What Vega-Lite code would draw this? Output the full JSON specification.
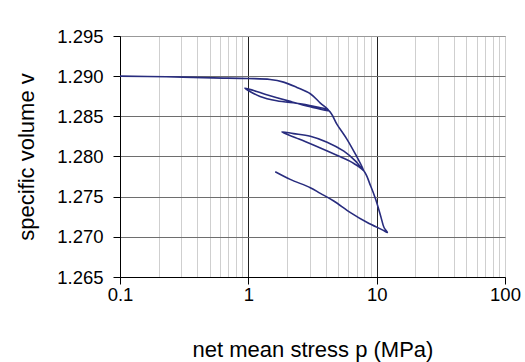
{
  "$schema": "https://vega.github.io/schema/vega-lite/v6.json",
  "width": 385,
  "height": 241,
  "autosize": "none",
  "padding": {"left": 120, "top": 36, "right": 20, "bottom": 85},
  "background": "white",
  "config": {
    "view": {"stroke": "#999999", "strokeWidth": 1},
    "font": "Liberation Sans"
  },
  "data": {
    "values": [
      {"i": 1, "p": 0.1, "v": 1.2900},
      {"i": 2, "p": 0.229, "v": 1.28992},
      {"i": 3, "p": 0.532, "v": 1.28979},
      {"i": 4, "p": 1.0, "v": 1.28971},
      {"i": 5, "p": 1.478, "v": 1.28959},
      {"i": 6, "p": 1.88, "v": 1.28926},
      {"i": 7, "p": 2.39, "v": 1.28860},
      {"i": 8, "p": 3.04, "v": 1.28781},
      {"i": 9, "p": 3.64, "v": 1.28665},
      {"i": 10, "p": 4.24, "v": 1.28570},
      {"i": 11, "p": 3.04, "v": 1.28620},
      {"i": 12, "p": 2.12, "v": 1.28686},
      {"i": 13, "p": 1.39, "v": 1.28769},
      {"i": 14, "p": 0.94, "v": 1.28851},
      {"i": 15, "p": 1.234, "v": 1.28748},
      {"i": 16, "p": 1.667, "v": 1.28694},
      {"i": 17, "p": 2.54, "v": 1.28657},
      {"i": 18, "p": 3.43, "v": 1.28616},
      {"i": 19, "p": 4.24, "v": 1.28570},
      {"i": 20, "p": 4.92, "v": 1.28397},
      {"i": 21, "p": 5.89, "v": 1.28211},
      {"i": 22, "p": 6.85, "v": 1.28025},
      {"i": 23, "p": 7.96, "v": 1.27818},
      {"i": 24, "p": 6.85, "v": 1.27942},
      {"i": 25, "p": 5.55, "v": 1.28066},
      {"i": 26, "p": 4.11, "v": 1.28178},
      {"i": 27, "p": 3.04, "v": 1.28252},
      {"i": 28, "p": 2.25, "v": 1.28285},
      {"i": 29, "p": 1.82, "v": 1.28306},
      {"i": 30, "p": 2.54, "v": 1.28211},
      {"i": 31, "p": 3.64, "v": 1.28107},
      {"i": 32, "p": 5.22, "v": 1.27996},
      {"i": 33, "p": 6.64, "v": 1.27913},
      {"i": 34, "p": 7.96, "v": 1.27818},
      {"i": 35, "p": 8.98, "v": 1.27632},
      {"i": 36, "p": 9.82, "v": 1.27467},
      {"i": 37, "p": 10.74, "v": 1.27260},
      {"i": 38, "p": 11.41, "v": 1.27116},
      {"i": 39, "p": 12.12, "v": 1.27054},
      {"i": 40, "p": 11.07, "v": 1.27087},
      {"i": 41, "p": 8.45, "v": 1.27178},
      {"i": 42, "p": 6.25, "v": 1.27302},
      {"i": 43, "p": 4.63, "v": 1.27446},
      {"i": 44, "p": 3.64, "v": 1.27541},
      {"i": 45, "p": 3.04, "v": 1.27612},
      {"i": 46, "p": 2.12, "v": 1.27715},
      {"i": 47, "p": 1.62, "v": 1.27810}
    ]
  },
  "mark": {"type": "line", "color": "#282c7e", "strokeWidth": 1.6, "interpolate": "catmull-rom"},
  "encoding": {
    "order": {"field": "i", "type": "quantitative"},
    "x": {
      "field": "p",
      "type": "quantitative",
      "scale": {"type": "log", "domain": [0.1, 100], "nice": false},
      "axis": {
        "title": "net mean stress p (MPa)",
        "values": [0.1, 0.2, 0.3, 0.4, 0.5, 0.6, 0.7, 0.8, 0.9, 1, 2, 3, 4, 5, 6, 7, 8, 9, 10, 20, 30, 40, 50, 60, 70, 80, 90, 100],
        "labelExpr": "(abs(log(datum.value)/log(10) - round(log(datum.value)/log(10))) < 0.001) ? datum.value : ''",
        "labelFontSize": 18.5,
        "labelColor": "#000000",
        "labelPadding": 1,
        "labelFlush": false,
        "labelOverlap": false,
        "titleFontSize": 22,
        "titleFontWeight": "normal",
        "titleColor": "#000000",
        "titlePadding": 36,
        "domainColor": "#000000",
        "tickSize": 7,
        "tickColor": "#000000",
        "tickOpacity": {"condition": {"test": "abs(log(datum.value)/log(10) - round(log(datum.value)/log(10))) < 0.001", "value": 1}, "value": 0},
        "grid": true,
        "gridColor": {"condition": {"test": "abs(log(datum.value)/log(10) - round(log(datum.value)/log(10))) < 0.001 && datum.value < 50", "value": "#222222"}, "value": "#cfcfcf"},
        "gridWidth": 1
      }
    },
    "y": {
      "field": "v",
      "type": "quantitative",
      "scale": {"domain": [1.265, 1.295], "nice": false, "zero": false},
      "axis": {
        "title": "specific volume v",
        "values": [1.265, 1.27, 1.275, 1.28, 1.285, 1.29, 1.295],
        "format": ".3f",
        "labelFontSize": 18.5,
        "labelColor": "#000000",
        "labelPadding": 10,
        "labelFlush": false,
        "titleFontSize": 22,
        "titleFontWeight": "normal",
        "titleColor": "#000000",
        "titlePadding": 18,
        "domainColor": "#000000",
        "tickSize": 7,
        "tickColor": "#000000",
        "grid": true,
        "gridColor": {"condition": {"test": "datum.value > 1.294", "value": "#999999"}, "value": "#6e6e6e"},
        "gridWidth": 1
      }
    }
  }
}
